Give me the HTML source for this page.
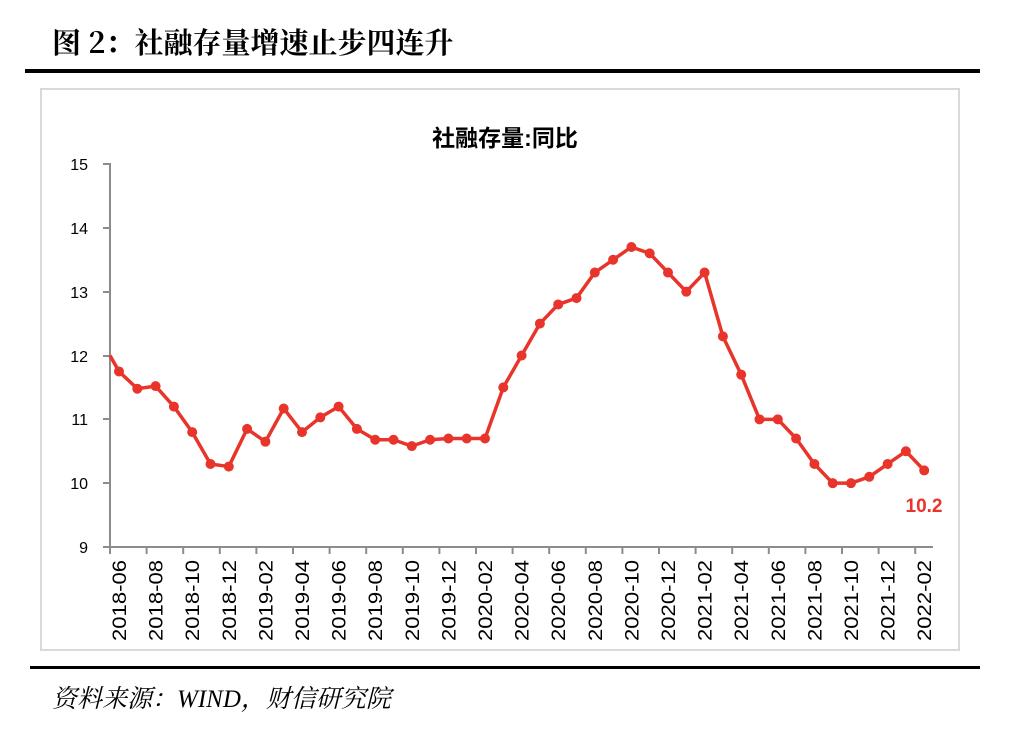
<!DOCTYPE html>
<html><head><meta charset="utf-8"><style>
body{margin:0;background:#fff;width:1010px;height:734px;overflow:hidden;}
</style></head><body>
<svg width="1010" height="734" xmlns="http://www.w3.org/2000/svg" font-family="Liberation Sans, 'Noto Sans CJK SC', sans-serif">
<text x="52" y="53" font-size="29" font-weight="bold" font-family="'Noto Serif CJK SC', 'Liberation Serif', serif" fill="#000">图 2：社融存量增速止步四连升</text>
<rect x="25" y="69" width="955" height="4" fill="#000"/>
<rect x="41" y="89" width="918" height="561" fill="none" stroke="#d9d9d9" stroke-width="2"/>
<text x="505" y="146" font-size="23" font-weight="bold" text-anchor="middle" fill="#000">社融存量:同比</text>
<g font-size="16" fill="#000" text-anchor="end">
<text x="88" y="170">15</text><text x="88" y="234">14</text><text x="88" y="298">13</text>
<text x="88" y="362">12</text><text x="88" y="425">11</text><text x="88" y="489">10</text><text x="88" y="553">9</text>
</g>
<g stroke="#8c8c8c" stroke-width="2">
<line x1="110" y1="163" x2="110" y2="548"/>
<line x1="103" y1="164" x2="110" y2="164"/><line x1="103" y1="228" x2="110" y2="228"/>
<line x1="103" y1="292" x2="110" y2="292"/><line x1="103" y1="356" x2="110" y2="356"/>
<line x1="103" y1="419" x2="110" y2="419"/><line x1="103" y1="483" x2="110" y2="483"/>
<line x1="103" y1="547" x2="933" y2="547"/>
</g>
<g id="ticks" stroke="#8c8c8c" stroke-width="2"></g>
<g id="labels" font-size="19" fill="#000"></g>
<polyline id="line" fill="none" stroke="#e8342a" stroke-width="3.5" stroke-linejoin="round"/>
<g id="dots" fill="#e8342a"></g>
<text x="924" y="512" font-size="19" font-weight="bold" fill="#e8342a" text-anchor="middle">10.2</text>
<rect x="30" y="666" width="950" height="3" fill="#000"/>
<text x="52" y="707" font-size="25" font-style="italic" font-family="'Liberation Serif','Noto Serif CJK SC',serif" fill="#000">资料来源：WIND，财信研究院</text>
</svg>
<script>
var v=[11.75,11.48,11.52,11.2,10.8,10.3,10.26,10.85,10.65,11.17,10.8,11.03,11.2,10.85,10.68,10.68,10.58,10.68,10.7,10.7,10.7,11.5,12.0,12.5,12.8,12.9,13.3,13.5,13.7,13.6,13.3,13.0,13.3,12.3,11.7,11.0,11.0,10.7,10.3,10.0,10.0,10.1,10.3,10.5,10.2];
var ns="http://www.w3.org/2000/svg";
function Y(x){return 547-(x-9)*63.83;}
var pts=["110,"+Y(12.0)],d=document.getElementById("dots"),t=document.getElementById("ticks"),l=document.getElementById("labels");
for(var i=0;i<v.length;i++){var x=119+i*18.3,y=Y(v[i]);pts.push(x+","+y);
var c=document.createElementNS(ns,"circle");c.setAttribute("cx",x);c.setAttribute("cy",y);c.setAttribute("r",5);d.appendChild(c);
if(i%2==0){var tk=document.createElementNS(ns,"line");var tx=110+i*18.3;tk.setAttribute("x1",tx);tk.setAttribute("x2",tx);tk.setAttribute("y1",547);tk.setAttribute("y2",554);t.appendChild(tk);
var m=6+i,yr=2018+Math.floor((m-1)/12),mo=((m-1)%12)+1;
var tx2=document.createElementNS(ns,"text");tx2.setAttribute("transform","translate("+(x+7)+",641) rotate(-90)");tx2.setAttribute("textLength","81");tx2.setAttribute("lengthAdjust","spacingAndGlyphs");tx2.textContent=yr+"-"+(mo<10?"0":"")+mo;l.appendChild(tx2);}}
document.getElementById("line").setAttribute("points",pts.join(" "));
</script>
</body></html>
